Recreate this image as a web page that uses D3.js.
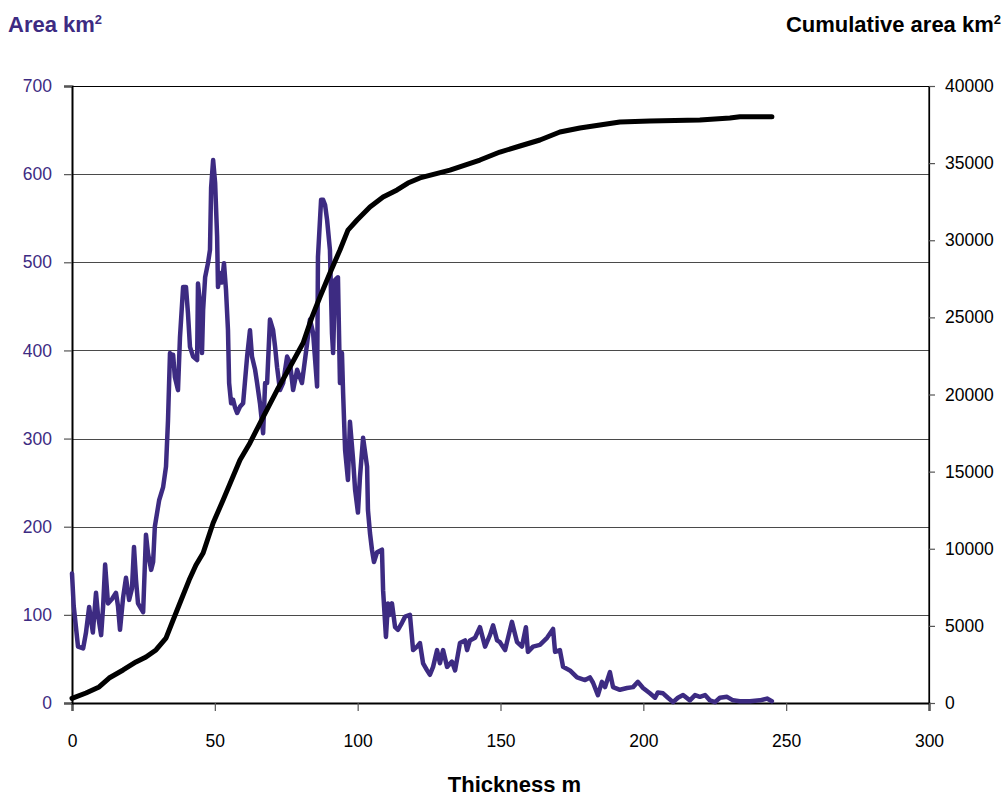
<!DOCTYPE html>
<html>
<head>
<meta charset="utf-8">
<script src="https://cdn.jsdelivr.net/npm/d3@7"></script>
<style>
  body { margin: 0; background: #fff; }
  svg { font-family: "Liberation Sans", Arial, sans-serif; }
  .axis text { font-size: 17.5px; }
</style>
</head>
<body>
<svg width="1008" height="798"></svg>
<script>
// thickness (m) and area (km2) for the purple series
var areaThickness = [0, 0.6, 2.1, 3.9, 4.9, 6.0, 7.3, 8.4, 9.1, 10.2, 10.9, 11.6, 12.6, 14, 15.4, 16.1, 16.8, 17.9, 18.9, 20, 21, 21.7, 22.4, 23.1, 24.9, 25.9, 26.6, 27.7, 28.4, 29, 30.5, 31.9, 32.9, 33.6, 34.3, 35, 35.4, 36, 37.1, 37.8, 38.9, 39.9, 40.6, 41.3, 42.4, 43.8, 44.1, 44.8, 45.5, 45.9, 46.6, 47.6, 48.3, 48.7, 49.4, 50.1, 50.8, 51.1, 51.8, 52.5, 53.2, 53.9, 54.6, 55, 55.7, 56.4, 57.1, 57.8, 58.8, 59.9, 61.3, 62.3, 63, 64.1, 64.8, 65.8, 66.9, 67.6, 68.3, 69.3, 70.4, 71.1, 71.8, 72.8, 73.9, 75.3, 76.3, 77.4, 78.8, 80.5, 82.3, 83.3, 84.4, 85.8, 86.1, 87.2, 87.9, 88.6, 89.3, 90.3, 91, 91.4, 92.1, 93.1, 93.8, 94.5, 94.9, 95.6, 96.6, 97.3, 98.4, 99.1, 100.1, 100.8, 101.9, 103.3, 103.6, 104.3, 105, 105.7, 106.8, 108.5, 108.9, 109.9, 110.6, 111.3, 112, 113.1, 114.1, 115.5, 116.6, 118.3, 119.4, 120.8, 121.8, 122.9, 124.3, 125.3, 126.4, 127.8, 128.8, 129.9, 131.3, 133, 134.1, 135.8, 137.6, 138.3, 139.3, 141.1, 142.8, 144.6, 146.3, 147.4, 148.8, 149.8, 151.6, 154, 155.8, 157.5, 158.9, 159.6, 161.4, 163.8, 166.3, 168.4, 169.1, 170.8, 171.9, 174.3, 176.8, 179.6, 181.3, 182.4, 184.1, 185.5, 186.6, 188.3, 189.4, 191.8, 194.3, 196.4, 198.1, 199.9, 202.3, 204.1, 205.1, 206.9, 208.6, 210.4, 212.1, 213.9, 216.3, 218.1, 219.8, 221.6, 223.3, 225.1, 226.8, 229.3, 231.4, 233.8, 237.3, 240.8, 243.3, 245];
var areaValues = [147, 110, 64, 62, 80, 109, 80, 125, 100, 77, 110, 157, 113, 118, 125, 110, 83, 120, 142, 117, 130, 177, 140, 113, 103, 191, 170, 151, 160, 200, 230, 245, 268, 320, 397, 395, 395, 370, 355, 415, 472, 472, 442, 404, 393, 389, 476, 454, 397, 446, 483, 499, 514, 585, 616, 590, 529, 472, 488, 477, 499, 469, 423, 363, 340, 344, 335, 329, 336, 340, 393, 423, 393, 378, 363, 340, 306, 363, 363, 435, 423, 404, 381, 355, 363, 393, 386, 355, 378, 363, 408, 435, 420, 359, 506, 571, 571, 565, 548, 514, 420, 397, 480, 483, 363, 397, 352, 287, 253, 319, 276, 242, 216, 256, 301, 268, 219, 193, 174, 160, 171, 174, 128, 75, 113, 100, 113, 86, 83, 91, 98, 100, 60, 64, 68, 45, 37, 32, 41, 60, 45, 60, 41, 47, 37, 68, 71, 60, 71, 74, 86, 64, 77, 88, 71, 69, 60, 92, 69, 64, 86, 58, 64, 66, 74, 84, 58, 60, 41, 37, 29, 26, 29, 23, 9, 24, 18, 35, 18, 15, 17, 18, 24, 17, 11, 6, 12, 11, 6, 1, 6, 9, 3, 9, 7, 9, 3, 1, 6, 7, 3, 2, 2, 3, 5, 2];

// thickness (m) and cumulative area (km2) for the black series
var cumThickness = [0, 4.9, 9.5, 13, 17.9, 22.4, 25.9, 29.4, 32.9, 35.4, 38.2, 41, 43.4, 45.9, 49.4, 52.9, 58.8, 62.3, 66.9, 71.8, 76.3, 80.9, 84, 86.8, 90.3, 93.8, 96.6, 99.8, 104.3, 108.9, 113.8, 117.6, 121.8, 132.3, 142.8, 149.8, 156.8, 163.8, 170.8, 177.8, 184.8, 191.8, 202.3, 219.8, 230.3, 233.8, 245];
var cumValues = [300, 650, 1040, 1620, 2140, 2660, 2980, 3440, 4210, 5380, 6680, 7970, 8950, 9720, 11670, 13160, 15750, 16860, 18540, 20290, 21780, 23340, 25020, 26320, 27880, 29370, 30660, 31310, 32150, 32800, 33260, 33710, 34040, 34550, 35200, 35720, 36110, 36500, 37020, 37280, 37470, 37670, 37730, 37800, 37930, 38000, 38000];

var xTicks = [0, 50, 100, 150, 200, 250, 300];
var leftTicks = [0, 100, 200, 300, 400, 500, 600, 700];
var rightTicks = [0, 5000, 10000, 15000, 20000, 25000, 30000, 35000, 40000];

var purple = "#3d2b82";

var svg = d3.select("svg"),
    margin = {top: 86, right: 79, bottom: 95, left: 72},
    width = +svg.attr("width") - margin.left - margin.right,
    height = +svg.attr("height") - margin.top - margin.bottom;

var x = d3.scaleLinear().domain([0, 300]).range([0, width]),
    yArea = d3.scaleLinear().domain([0, 700]).range([height, 0]),
    yCum = d3.scaleLinear().domain([0, 40000]).range([height, 0]);

var g = svg.append("g")
    .attr("transform", "translate(" + margin.left + "," + margin.top + ")");

// horizontal grid lines
g.append("g")
    .selectAll("line")
    .data(leftTicks.slice(1))
    .enter().append("line")
    .attr("x1", 0)
    .attr("x2", width)
    .attr("y1", function(d) { return Math.round(yArea(d)) + 0.5; })
    .attr("y2", function(d) { return Math.round(yArea(d)) + 0.5; })
    .attr("stroke", function(d) { return d === 700 ? "#000" : "#4a4a4a"; })
    .attr("stroke-width", 1.2);

// right border line
g.append("line")
    .attr("x1", width).attr("x2", width)
    .attr("y1", 0).attr("y2", height)
    .attr("stroke", "#000").attr("stroke-width", 1.2);

// axes
var xAxis = g.append("g")
    .attr("class", "axis")
    .attr("transform", "translate(0," + height + ")")
    .call(d3.axisBottom(x).tickValues(xTicks).tickSize(8).tickPadding(24));

var leftAxis = g.append("g")
    .attr("class", "axis")
    .call(d3.axisLeft(yArea).tickValues(leftTicks).tickSize(8).tickPadding(12));

var rightAxis = g.append("g")
    .attr("class", "axis")
    .attr("transform", "translate(" + width + ",0)")
    .call(d3.axisRight(yCum).tickValues(rightTicks).tickFormat(d3.format("d")).tickSize(6).tickPadding(10));

[xAxis, leftAxis, rightAxis].forEach(function(a) {
  a.select(".domain").attr("stroke", "#000").attr("stroke-width", 2);
  a.selectAll(".tick line").attr("stroke", "#555").attr("stroke-width", 1.2);
  a.selectAll("text").attr("fill", "#000");
});
leftAxis.selectAll("text").attr("fill", purple);
rightAxis.select(".domain").attr("stroke-width", 1.2);

// area line
var areaLine = d3.line()
    .x(function(d) { return x(d[0]); })
    .y(function(d) { return yArea(d[1]); });

g.append("path")
    .datum(d3.zip(areaThickness, areaValues))
    .attr("fill", "none")
    .attr("stroke", purple)
    .attr("stroke-width", 4.5)
    .attr("stroke-linejoin", "round")
    .attr("stroke-linecap", "round")
    .attr("d", areaLine);

// cumulative line
var cumLine = d3.line()
    .x(function(d) { return x(d[0]); })
    .y(function(d) { return yCum(d[1]); });

g.append("path")
    .datum(d3.zip(cumThickness, cumValues))
    .attr("fill", "none")
    .attr("stroke", "#000")
    .attr("stroke-width", 5)
    .attr("stroke-linejoin", "round")
    .attr("stroke-linecap", "round")
    .attr("d", cumLine);

// titles
var leftTitle = svg.append("text")
    .attr("x", 8).attr("y", 32)
    .attr("fill", purple)
    .attr("font-size", 22).attr("font-weight", "bold")
    .text("Area km");
leftTitle.append("tspan").attr("dy", -8).attr("font-size", 13).text("2");

var rightTitle = svg.append("text")
    .attr("x", 1001).attr("y", 32)
    .attr("text-anchor", "end")
    .attr("fill", "#000")
    .attr("font-size", 22).attr("font-weight", "bold")
    .text("Cumulative area km");
rightTitle.append("tspan").attr("dy", -8).attr("font-size", 13).text("2");

svg.append("text")
    .attr("x", margin.left + width / 2 + 14).attr("y", 792)
    .attr("text-anchor", "middle")
    .attr("fill", "#000")
    .attr("font-size", 22).attr("font-weight", "bold")
    .text("Thickness m");
</script>
</body>
</html>
